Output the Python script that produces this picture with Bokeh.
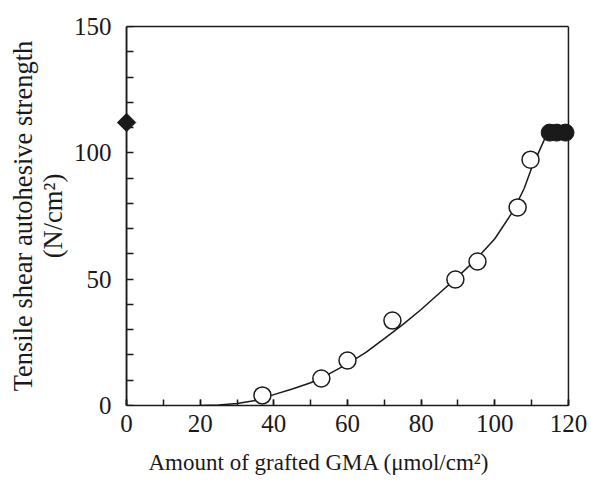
import math
from bokeh.plotting import figure
from bokeh.models import Range1d, SingleIntervalTicker, FixedTicker, LinearAxis, Span, Title
from bokeh.embed import file_html
from bokeh.resources import INLINE

# Open circles (grafted samples)
open_x = [36.9, 52.9, 60.0, 72.2, 89.3, 95.3, 106.2, 109.7]
open_y = [4.0, 10.7, 17.8, 33.6, 49.9, 57.0, 78.4, 97.3]

# Filled circles
fill_x = [114.9, 116.8, 119.2]
fill_y = [108.0, 108.0, 108.0]

# Filled diamond at 0
dia_x = [0.0]
dia_y = [112.0]

# Fitted curve
curve_x = [20, 25, 30, 35, 40, 45, 50, 55, 60, 65, 70, 75, 80, 85, 90, 95, 100, 105, 108, 110, 112, 114]
curve_y = [0, 0.2, 0.8, 2.0, 4.3, 6.5, 9.0, 12.5, 16.5, 21.0, 26.5, 32.0, 38.0, 44.5, 51.0, 58.0, 66.0, 77.0, 86.0, 94.0, 100.5, 107.0]

# tick marks on the y axis (every 10)
y_tick_marks = [0, 10, 20, 30, 40, 50, 60, 70, 80, 90, 100, 110, 120, 130, 140, 150]

x_title = "Amount of grafted GMA (\u03bcmol/cm\u00b2)"
y_title = "Tensile shear autohesive strength\n(N/cm\u00b2)"

FONT = "Liberation Serif"
INK = "#1a1a1a"

p = figure(width=591, height=489, output_backend="svg", toolbar_location=None,
           x_range=Range1d(-3, 123), y_range=Range1d(0, 150),
           min_border_left=115, min_border_right=12, min_border_top=26, min_border_bottom=84)

p.background_fill_color = "white"
p.border_fill_color = "white"
p.outline_line_color = None
p.grid.visible = False

# bottom axis
xa = p.xaxis[0]
xa.ticker = SingleIntervalTicker(interval=20, num_minor_ticks=2)
xa.bounds = (0, 120)
xa.axis_line_color = INK
xa.axis_line_width = 1.5
xa.major_tick_in = 6
xa.major_tick_out = 0
xa.minor_tick_in = 6
xa.minor_tick_out = 0
xa.major_tick_line_color = INK
xa.minor_tick_line_color = INK
xa.major_tick_line_width = 1.5
xa.minor_tick_line_width = 1.5
xa.major_label_text_font = FONT
xa.major_label_text_font_size = "25px"
xa.major_label_text_color = INK
xa.major_label_standoff = 9

# left axis: labels only (sits at frame edge)
ya = p.yaxis[0]
ya.ticker = SingleIntervalTicker(interval=50)
ya.axis_line_color = None
ya.major_tick_in = 0
ya.major_tick_out = 0
ya.minor_tick_line_color = None
ya.major_tick_line_color = None
ya.major_label_text_font = FONT
ya.major_label_text_font_size = "25px"
ya.major_label_text_color = INK
ya.major_label_standoff = 0
ya.axis_label = y_title
ya.axis_label_text_font = FONT
ya.axis_label_text_font_style = "normal"
ya.axis_label_text_font_size = "26.5px"
ya.axis_label_text_line_height = 1.0
ya.axis_label_text_color = INK
ya.axis_label_standoff = 3

# inward ticks at x = 0 (an axis fixed at x=0, ticks pointing right)
tick_ax = LinearAxis(ticker=FixedTicker(ticks=[], minor_ticks=y_tick_marks),
                     fixed_location=0, bounds=(0, 150),
                     axis_line_color=INK, axis_line_width=1.5,
                     major_tick_in=0, major_tick_out=0, minor_tick_in=0, minor_tick_out=7,
                     major_tick_line_color=None, minor_tick_line_color=INK,
                     minor_tick_line_width=1.5, major_label_standoff=0)
p.add_layout(tick_ax, "right")

# top frame line
top_ax = LinearAxis(ticker=FixedTicker(ticks=[]), bounds=(0, 120),
                    axis_line_color=INK, axis_line_width=1.5,
                    major_tick_line_color=None, minor_tick_line_color=None)
p.add_layout(top_ax, "above")

# left and right frame lines
p.add_layout(Span(location=0, dimension="height", line_color=INK, line_width=1.5))
p.add_layout(Span(location=120, dimension="height", line_color=INK, line_width=1.5))

p.line(curve_x, curve_y, line_color=INK, line_width=1.5)

p.scatter(open_x, open_y, marker="circle", size=17, fill_color="white",
          line_color=INK, line_width=1.5)
p.scatter(fill_x, fill_y, marker="circle", size=17, fill_color=INK,
          line_color=INK, line_width=1)
p.scatter(dia_x, dia_y, marker="square", size=13, angle=math.pi / 4,
          fill_color=INK, line_color=INK, line_width=1)

p.add_layout(Title(text=x_title, align="left", offset=33, text_font=FONT,
                   text_font_size="23px", text_font_style="normal",
                   text_color=INK, standoff=27), "below")

open("out.html", "w").write(file_html(p, INLINE))
